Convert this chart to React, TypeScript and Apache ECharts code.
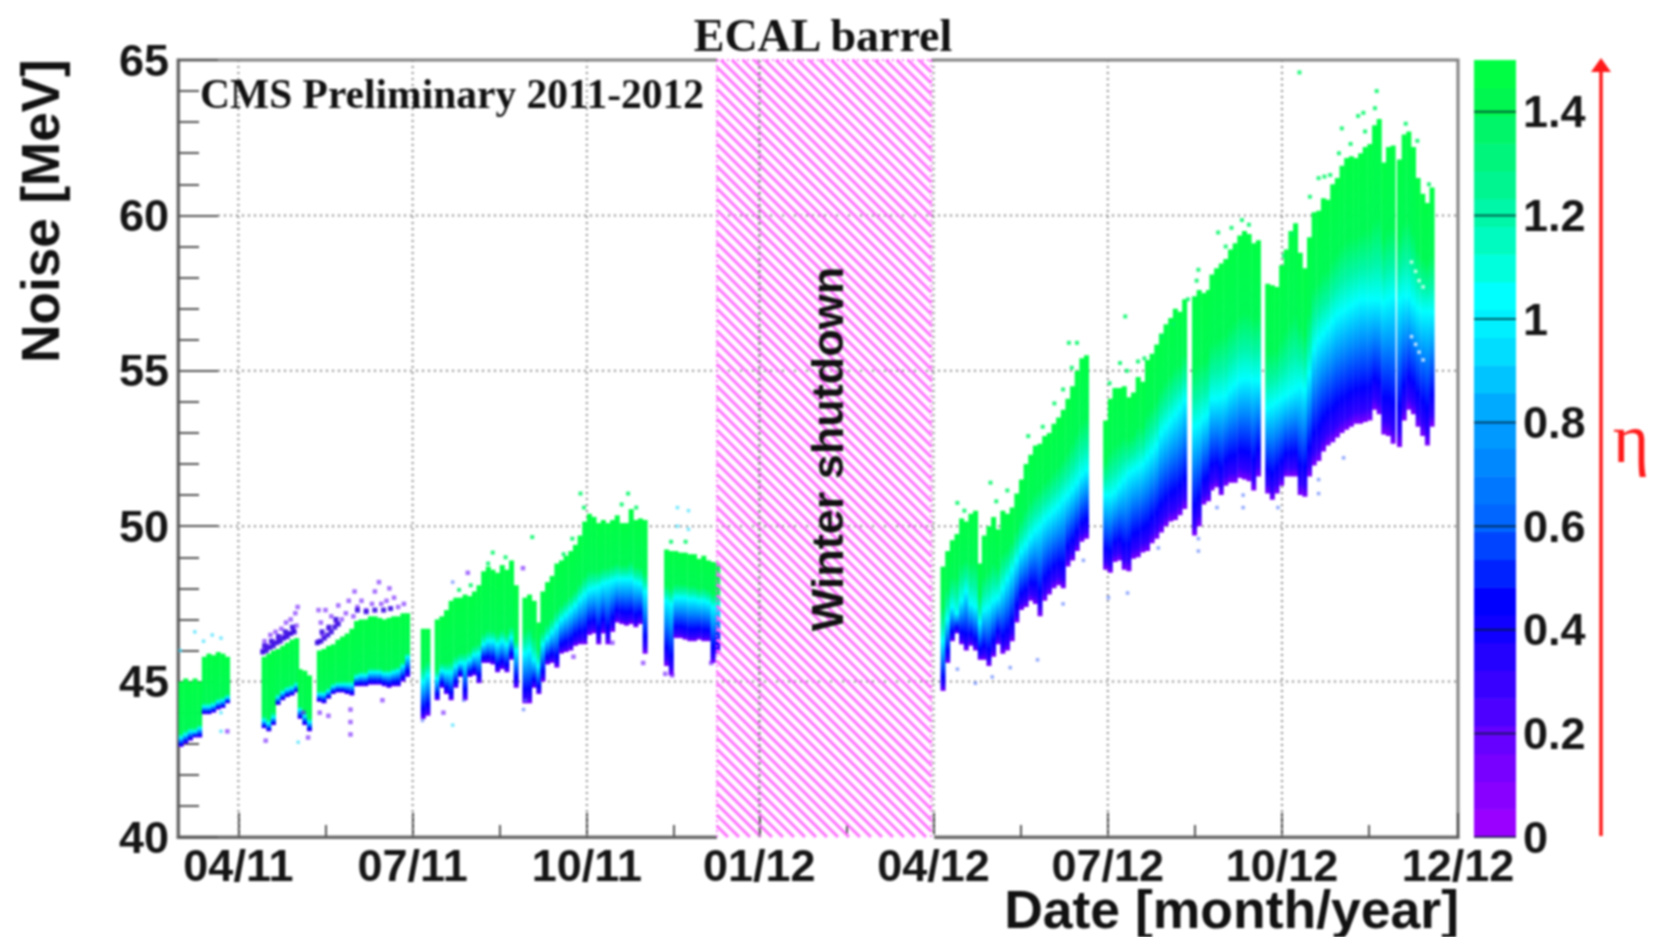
import React, { useEffect, useRef } from "react";
import * as echarts from "echarts";

const tickMonths = [0, 3, 6, 8.97, 11.97, 14.97, 17.97, 21];
const tickLabels = ["04/11", "07/11", "10/11", "01/12", "04/12", "07/12", "10/12", "12/12"];
const minorTickMonths = [1.5, 4.5, 7.5, 10.47, 13.47, 16.47, 19.47];
const noiseTicks = [40, 45, 50, 55, 60, 65];
const shutdown = [8.24, 11.93];
const sampleStep = 0.08;

// Each run: start month, then noise at eta 0 (low), at eta 1 (mid) and at eta 1.5 (high); fade = saturated green share above mid
const a1Start = -1.03;
const a1Low = [42.9, 43.0, 43.1, 43.2, 43.2];
const a1Mid = [43.2, 43.3, 43.4, 43.4, 43.5];
const a1High = [45.0, 45.1, 45.0, 45.1, 45.0];
const a2Start = -0.63;
const a2Low = [43.95, 43.95, 44.0, 44.1, 44.15, 44.3];
const a2Mid = [44.2, 44.2, 44.25, 44.35, 44.4, 44.5];
const a2High = [45.8, 45.9, 45.85, 45.95, 45.9, 45.8];
const b1Start = 0.4;
const b1Low = [43.5, 43.4, 43.6, 44.25, 44.4, 44.5, 44.55, 44.65];
const b1Mid = [43.75, 43.65, 43.85, 44.5, 44.65, 44.75, 44.8, 44.9];
const b1High = [45.8, 45.9, 46, 46.05, 46.15, 46.25, 46.35, 46.4];
const b2Start = 1.02;
const b2Low = [43.8, 43.6, 43.4];
const b2Mid = [44.1, 43.9, 43.7];
const b2High = [45.4, 45.35, 45.2];
const cStart = 1.35;
const cLow = [44.35, 44.3, 44.45, 44.6, 44.65, 44.65, 44.6, 44.55, 44.85, 44.85, 44.85, 44.9, 44.9, 44.9, 44.85, 44.8, 44.85, 44.85, 45.0, 45.15];
const cMid = [44.6, 44.6, 44.7, 44.85, 44.9, 44.9, 44.9, 44.9, 45.15, 45.2, 45.2, 45.3, 45.3, 45.3, 45.25, 45.25, 45.3, 45.35, 45.5, 45.8];
const cHigh = [46, 46.05, 46.15, 46.2, 46.35, 46.45, 46.55, 46.7, 46.95, 47.0, 47.0, 47.1, 47.1, 47.05, 47.0, 47.05, 47.1, 47.1, 47.2, 47.2];
const dStart = 3.14;
const dLow = [43.8, 43.9];
const dMid = [45.0, 45.2];
const dHigh = [46.7, 46.7];
const eStart = 3.38;
const eLow = [44.4, 44.8, 44.6, 44.4, 44.8, 45.15, 44.4, 45.15, 45.2, 44.95, 45.6, 45.6, 45.55, 45.3, 45.4, 45.3, 45.7, 44.8];
const eMid = [45.1, 45.35, 45.3, 45.3, 45.5, 45.6, 45.6, 45.7, 45.85, 45.9, 46.2, 46.3, 46.3, 46.2, 46.3, 46.2, 46.4, 46.0];
const eHigh = [47.0, 47.1, 47.3, 47.6, 47.7, 47.7, 47.8, 47.75, 47.9, 48.1, 48.55, 48.7, 48.6, 48.5, 48.75, 48.6, 48.9, 48.1];
const fStart = 4.89;
const fLow = [44.3, 44.3, 44.8, 44.6];
const fMid = [45.9, 46.0, 45.7, 45.5];
const fHigh = [47.7, 47.8, 47.6, 46.9];
const gStart = 5.2;
const gLow = [45.0, 45.55, 45.6, 45.45, 45.9, 45.95, 46.0, 46.15, 46.2, 46.2, 46.5, 46.55, 46.2, 46.55, 46.2, 46.6, 46.9, 46.85, 46.8, 46.85, 46.75, 46.85, 45.9];
const gMid = [46.2, 46.4, 46.6, 46.8, 47.0, 47.15, 47.3, 47.45, 47.65, 47.8, 47.95, 48.0, 48.05, 48.15, 48.2, 48.25, 48.3, 48.3, 48.3, 48.3, 48.2, 48.15, 47.9];
const gHigh = [47.9, 48.2, 48.4, 48.8, 48.9, 49.05, 49.2, 49.4, 49.7, 50.15, 50.4, 50.3, 50.1, 50.2, 50.1, 50.2, 50.35, 50.1, 50.1, 50.55, 50.2, 50.25, 50.2];
const hStart = 7.33;
const hLow = [45.5, 45.2, 46.4, 46.4, 46.35, 46.3, 46.3, 46.35, 46.3, 46.3, 45.6, 45.9];
const hMid = [47.6, 47.5, 47.7, 47.7, 47.7, 47.65, 47.65, 47.6, 47.6, 47.55, 47.4, 47.4];
const hHigh = [49.25, 49.2, 49.2, 49.15, 49.15, 49.1, 49.1, 48.95, 49.05, 48.9, 48.85, 48.8];
const i1Start = 12.09;
const i1Low = [44.7, 45.6, 46.3, 46.55, 46.2, 46, 46.15, 46, 45.7];
const i1Mid = [46.3, 47.0, 47.4, 47.2, 47.6, 47.9, 47.5, 47.4, 46.9];
const i1High = [48.7, 49.2, 49.55, 49.75, 50.25, 50.15, 50.4, 50.5, 48.8];
const i2Start = 12.8;
const i2Low = [45.7, 45.5, 45.8, 46.2, 45.9, 46.0, 46.3, 46.9, 47.3, 47.4, 47.6, 47.5, 47.1, 47.6, 47.8, 48.0, 48.1, 48.0, 48.7, 48.9, 49.2, 49.5, 49.6];
const i2Mid = [47.3, 47.4, 47.6, 47.7, 48.0, 48.3, 48.6, 48.9, 49.2, 49.4, 49.65, 49.85, 50.0, 50.2, 50.35, 50.5, 50.65, 50.85, 51.0, 51.2, 51.4, 51.65, 51.8];
const i2High = [49.7, 50.0, 50.3, 49.9, 50.5, 50.4, 50.6, 51.05, 51.5, 52.0, 52.3, 52.6, 52.65, 52.9, 53.0, 53.3, 53.5, 53.75, 54.1, 54.5, 55.0, 55.4, 55.5];
const kStart = 14.89;
const kLow = [48.6, 48.5, 48.85, 48.9, 48.6, 48.55, 48.95, 49, 49.15, 49.2, 49.45, 49.6, 49.8, 50.0, 50.15, 50.2, 50.35, 50.55];
const kMid = [51.0, 51.0, 51.1, 51.3, 51.5, 51.7, 51.8, 51.9, 52.0, 52.2, 52.4, 52.6, 53.0, 53.2, 53.4, 53.6, 53.8, 54.05];
const kHigh = [53.4, 54.1, 54.45, 54.45, 54.5, 54.15, 54.3, 54.8, 54.65, 55.35, 55.55, 55.85, 56.2, 56.5, 56.7, 57, 56.9, 57.3];
const lStart = 16.42;
const lLow = [49.7, 50.0, 50.7, 50.8];
const lMid = [53.2, 53.3, 53.5, 53.6];
const lHigh = [57.4, 57.6, 57.5, 57.6];
const mStart = 16.72;
const mLow = [51.15, 51.25, 51.0, 51.3, 51.4, 51.4, 51.55, 51.5, 51.45, 51.15, 51.6];
const mMid = [54.1, 54.1, 54.15, 54.2, 54.4, 54.55, 54.7, 54.75, 54.75, 54.7, 54.7];
const mHigh = [58.1, 58.3, 58.45, 58.6, 58.9, 59.1, 59.35, 59.5, 59.4, 59.1, 59.2];
const n1Start = 17.68;
const n1Low = [51.05, 50.85, 51.05, 51.3, 51.6, 51.6, 51.6, 51.0, 50.95, 51.6, 51.95, 52.1, 52.4, 52.6, 52.7, 52.85, 53.0, 53.1, 53.2, 53.3, 53.3, 53.35, 53.4, 53.75, 53.6, 52.95];
const n1Mid = [53.8, 53.9, 54, 54.1, 54.2, 54.3, 54.4, 54.5, 54.4, 54.9, 55.7, 56, 56.2, 56.4, 56.6, 56.8, 56.9, 57, 57.1, 57.2, 57.3, 57.3, 57.3, 57.3, 57.3, 57.2];
const n1High = [57.8, 57.75, 57.7, 58.4, 58.9, 59.5, 59.75, 58.8, 58.3, 59.3, 60.1, 60.15, 60.55, 60.5, 61, 61.2, 61.6, 61.85, 61.9, 61.85, 62, 62.2, 62.3, 62.9, 63.1, 61.7];
const n2Start = 19.76;
const n2Low = [52.9, 52.65];
const n2Mid = [57.3, 57.4];
const n2High = [62.2, 62.25];
const n3Start = 19.95;
const n3Low = [52.55, 53.4, 53.75, 53.6, 53.2, 52.9, 52.6, 53.2];
const n3Mid = [57.3, 57.4, 57.4, 57.2, 57.0, 56.9, 56.9, 56.9];
const n3High = [61.8, 62.6, 62.7, 62.2, 61.2, 60.7, 60.4, 60.9];

const runs: [number, number[], number[], number[], number][] = [
  [a1Start, a1Low, a1Mid, a1High, 0.92],
  [a2Start, a2Low, a2Mid, a2High, 0.92],
  [b1Start, b1Low, b1Mid, b1High, 0.92],
  [b2Start, b2Low, b2Mid, b2High, 0.92],
  [cStart, cLow, cMid, cHigh, 0.92],
  [dStart, dLow, dMid, dHigh, 0.7],
  [eStart, eLow, eMid, eHigh, 0.85],
  [fStart, fLow, fMid, fHigh, 0.6],
  [gStart, gLow, gMid, gHigh, 0.75],
  [hStart, hLow, hMid, hHigh, 0.7],
  [i1Start, i1Low, i1Mid, i1High, 0.55],
  [i2Start, i2Low, i2Mid, i2High, 0.55],
  [kStart, kLow, kMid, kHigh, 0.55],
  [lStart, lLow, lMid, lHigh, 0.55],
  [mStart, mLow, mMid, mHigh, 0.55],
  [n1Start, n1Low, n1Mid, n1High, 0.55],
  [n2Start, n2Low, n2Mid, n2High, 0.55],
  [n3Start, n3Low, n3Mid, n3High, 0.55],
];

const purpleStrays = [[0.42, 46.0], [0.45, 46.3], [0.5, 46.15], [0.55, 46.5], [0.6, 46.25], [0.64, 46.6], [0.68, 46.35], [0.74, 46.7], [0.78, 46.45], [0.82, 46.9], [0.86, 46.55], [0.9, 47.0], [0.95, 46.65], [0.98, 47.2], [1.0, 46.8], [1.02, 47.4], [1.38, 46.3], [1.38, 47.3], [1.42, 46.9], [1.45, 46.5], [1.5, 47.3], [1.55, 46.7], [1.6, 47.1], [1.68, 46.9], [1.72, 47.45], [1.78, 47.0], [1.85, 47.2], [1.9, 47.6], [1.98, 47.1], [2.0, 47.9], [2.05, 47.4], [2.12, 47.6], [2.2, 47.3], [2.3, 47.5], [2.35, 47.9], [2.42, 48.2], [2.46, 47.5], [2.55, 47.6], [2.6, 48.0], [2.68, 47.7], [2.75, 47.4], [2.85, 47.5], [0.47, 43.1], [1.12, 44.0], [1.2, 43.2], [1.4, 44.0], [1.55, 43.9], [1.93, 43.3], [1.93, 43.7], [1.93, 44.1], [-0.19, 43.4], [2.48, 44.4], [3.53, 44.0], [3.95, 48.5], [4.9, 48.65], [6.97, 45.6], [6.44, 46.25], [5.77, 45.8], [7.35, 45.25], [7.47, 45.2], [8.14, 45.6]];
const darkFringe = [[0.42, 45.95], [0.48, 46.0], [0.54, 46.1], [0.6, 46.15], [0.66, 46.25], [0.72, 46.3], [0.78, 46.4], [0.84, 46.45], [0.9, 46.55], [0.96, 46.6], [0.45, 46.15], [0.57, 46.3], [0.69, 46.45], [0.81, 46.6], [0.93, 46.75], [1.36, 46.25], [1.42, 46.3], [1.48, 46.4], [1.54, 46.5], [1.6, 46.6], [1.66, 46.75], [1.72, 46.85], [1.44, 46.6], [1.56, 46.75], [1.68, 47.0], [2.05, 47.3], [2.2, 47.25], [2.35, 47.3], [2.5, 47.3], [2.62, 47.35]];
const blueStrays = [[3.17, 43.75], [3.88, 44.4], [3.69, 48.2], [4.91, 44.1], [4.94, 44.4], [13.76, 45.7], [13.29, 45.45], [12.98, 45.15], [12.69, 44.95], [12.38, 45.4], [14.55, 48.9], [14.2, 47.5], [16.53, 49.2], [15.31, 47.85], [14.98, 47.7], [15.84, 49.3], [17.3, 50.6], [16.85, 50.6], [18.6, 51.05], [18.6, 51.5], [19.03, 52.2], [17.9, 50.6], [16.53, 49.6], [17.3, 51.0]];
const cyanStrays = [[-0.6, 46.3], [-0.75, 46.6], [-0.45, 46.5], [-1.0, 46.0], [-0.3, 46.4], [-0.3, 44.0], [-0.3, 43.4], [1.03, 43.05], [3.69, 43.6], [7.56, 50.6], [7.75, 50.5], [7.56, 50.0], [7.75, 49.9]];
const greenStrays = [[5.89, 51.05], [5.06, 49.65], [4.38, 49.15], [6.71, 51.05], [14.3, 55.9], [14.44, 55.9], [12.38, 50.75], [12.95, 51.4], [13.24, 51.15], [15.27, 56.75], [15.18, 55.25], [15.49, 55.3], [16.87, 59.45], [16.53, 58.25], [17.28, 59.85], [19.57, 63.45], [19.28, 63.2], [19.37, 63.3], [19.0, 62.8], [18.6, 61.2], [18.7, 61.25], [18.27, 64.6], [19.6, 64.0], [13.6, 52.9], [13.85, 53.2], [14.05, 53.95], [14.2, 54.4], [14.35, 55.1], [15.0, 54.6], [15.3, 55.0], [15.6, 55.4], [15.9, 56.1], [16.1, 56.5], [16.35, 57.3], [16.5, 57.9], [17.0, 59.0], [17.1, 59.6], [17.4, 59.7], [18.0, 58.7], [18.15, 59.4], [18.45, 60.6], [18.8, 61.3], [18.95, 62.0], [19.15, 62.3], [19.4, 62.7], [20.1, 62.95], [20.3, 62.4], [20.5, 61.0], [7.45, 49.5], [7.7, 49.5], [5.6, 49.1], [5.75, 49.6], [5.95, 50.6], [6.6, 50.7], [6.85, 50.6], [3.8, 47.95], [4.0, 48.1], [4.3, 48.8], [4.6, 49.0], [12.5, 50.5], [13.05, 50.8]];
const whiteStreaks = [[20.2, 58.5], [20.27, 58.2], [20.33, 57.9], [20.4, 57.7], [20.2, 56.1], [20.27, 55.85], [20.33, 55.6], [20.4, 55.35]];

const palette = ["#9900ff", "#8800ff", "#7700ff", "#6600ff", "#4d00ff", "#3800ff", "#2400ff", "#1000ff", "#0000ff", "#0022ff", "#0044ff", "#0066ff", "#0077ff", "#0088ff", "#0099ff", "#00aaff", "#00c4ff", "#00ddff", "#00f0ff", "#00ffff", "#00ffdd", "#00fbc0", "#00f7a8", "#00f590", "#00f57c", "#00f668", "#00f750", "#00ff44"];
const etaMax = 1.5;
const etaTicks = [0, 0.2, 0.4, 0.6, 0.8, 1, 1.2, 1.4];

const serif = "'Liberation Serif', serif";
const sans = "'Liberation Sans', sans-serif";

export default function App() {
  const ref = useRef<HTMLDivElement>(null);
  useEffect(() => {
    const chart = echarts.init(ref.current!, undefined, { renderer: "svg" });
    const columns: number[][] = [];
    runs.forEach(([start, low, mid, high, fade]) => {
      low.forEach((v, i) => columns.push([start + i * sampleStep, v, mid[i], high[i], fade]));
    });
    const strays = (name: string, data: number[][], color: string, opacity: number, size = 3.5) => ({
      type: "scatter", name, data, symbol: "rect", symbolSize: size, xAxisIndex: 0, yAxisIndex: 0, z: 4,
      itemStyle: { color, opacity }, silent: true,
    });
    chart.setOption({
      animation: false,
      grid: [
        { left: 178, top: 60, width: 1280, height: 777, show: true, borderColor: "#808080", borderWidth: 3, backgroundColor: "#fff" },
        { left: 1474, top: 60, width: 42, height: 777 },
      ],
      xAxis: [
        {
          type: "value", gridIndex: 0, min: -1.04, max: 21,
          axisLine: { show: true, onZero: false, lineStyle: { color: "#666", width: 3 } },
          axisTick: { show: true, inside: true, length: 24, customValues: tickMonths, lineStyle: { color: "#444", width: 2 } },
          axisLabel: {
            show: true, customValues: tickMonths, margin: 10, lineHeight: 36, fontFamily: sans, fontWeight: "bold", fontSize: 45, color: "#151515",
            formatter: (v: number) => tickLabels[tickMonths.indexOf(v)] ?? "",
          },
          splitLine: { show: false },
          minorTick: { show: false },
        },
        {
          type: "value", gridIndex: 0, min: -1.04, max: 21, position: "bottom",
          axisLine: { show: false },
          axisTick: { show: true, inside: true, length: 12, customValues: minorTickMonths, lineStyle: { color: "#555", width: 2 } },
          axisLabel: { show: false },
          splitLine: { show: false },
        },
        { type: "value", gridIndex: 1, min: 0, max: 1, show: false },
      ],
      yAxis: [
        {
          type: "value", gridIndex: 0, min: 40, max: 65, interval: 5,
          axisLine: { show: true, onZero: false, lineStyle: { color: "#666", width: 3 } },
          axisTick: { show: true, inside: true, length: 40, lineStyle: { color: "#555", width: 2 } },
          minorTick: { show: true, splitNumber: 5, length: 21, lineStyle: { color: "#555", width: 2 } },
          axisLabel: { show: true, margin: 9, fontFamily: sans, fontWeight: "bold", fontSize: 45, color: "#151515", customValues: noiseTicks },
          splitLine: { show: false },
        },
        {
          type: "value", gridIndex: 1, min: 0, max: etaMax, position: "right",
          axisLine: { show: false },
          axisTick: { show: false },
          axisLabel: { show: true, margin: 7, padding: [3, 0, 0, 0], customValues: etaTicks, fontFamily: sans, fontWeight: "bold", fontSize: 45, color: "#151515", formatter: (v: number) => String(v) },
          splitLine: { show: false },
        },
      ],
      series: [
        {
          type: "custom", name: "grid", xAxisIndex: 0, yAxisIndex: 0, z: 1, silent: true, data: [[0]],
          renderItem: (_p: any, api: any) => {
            const [x0, y0] = api.coord([-1.04, 65]);
            const [x1, y1] = api.coord([21, 40]);
            const dash = { stroke: "#8a8a8a", lineWidth: 2, lineDash: [2, 4] };
            const children: any[] = [];
            tickMonths.forEach((m) => {
              if (m === 21) return;
              const x = api.coord([m, 40])[0];
              children.push({ type: "line", shape: { x1: x, y1: y0, x2: x, y2: y1 }, style: dash });
            });
            noiseTicks.slice(1, -1).forEach((n) => {
              const y = api.coord([0, n])[1];
              children.push({ type: "line", shape: { x1: x0 + 40, y1: y, x2: x1, y2: y }, style: dash });
            });
            return { type: "group", children };
          },
        },
        {
          type: "custom", name: "Winter shutdown", xAxisIndex: 0, yAxisIndex: 0, z: 3, silent: true, data: [shutdown],
          renderItem: (_p: any, api: any) => {
            const [x0, y0] = api.coord([api.value(0), 65]);
            const [x1, y1] = api.coord([api.value(1), 40]);
            const children: any[] = [
              { type: "rect", shape: { x: x0, y: y0 - 2, width: x1 - x0, height: 4 }, style: { fill: "#fff" } },
              { type: "rect", shape: { x: x0, y: y1 - 3, width: x1 - x0 + 3, height: 5 }, style: { fill: "#fff" } },
            ];
            const gap = 11;
            const w = x1 - x0;
            const h = y1 - y0;
            for (let s = -h; s < w; s += gap) {
              const sx = Math.max(s, 0);
              const sy = sx - s;
              const ex = Math.min(s + h, w);
              const ey = ex - s;
              children.push({
                type: "line",
                shape: { x1: x0 + sx, y1: y0 + sy, x2: x0 + ex, y2: y0 + ey },
                style: { stroke: "#ff70ff", lineWidth: 3 },
              });
            }
            const dash = { stroke: "#ff50ff", lineWidth: 1.5, lineDash: [2, 3] };
            children.push({ type: "line", shape: { x1: x0, y1: y0, x2: x0, y2: y1 }, style: dash });
            children.push({ type: "line", shape: { x1: x1, y1: y0, x2: x1, y2: y1 }, style: dash });
            children.push({ type: "line", shape: { x1: x0, y1: y0, x2: x1, y2: y0 }, style: dash });
            const gx = api.coord([tickMonths[3], 40])[0];
            children.push({ type: "line", shape: { x1: gx, y1: y0, x2: gx, y2: y1 }, style: { stroke: "rgba(130,130,130,0.75)", lineWidth: 2.5, lineDash: [3, 3] } });
            return { type: "group", children };
          },
        },
        {
          type: "custom", name: "Noise", xAxisIndex: 0, yAxisIndex: 0, z: 2, silent: true, data: columns,
          encode: { x: 0, y: [1, 3] },
          renderItem: (_p: any, api: any) => {
            const m = api.value(0);
            const low = api.value(1);
            const mid = api.value(2);
            const high = api.value(3);
            const fade = api.value(4);
            const [xa, yb] = api.coord([m, low]);
            const [xb, yt] = api.coord([m + sampleStep, high]);
            const f = (high - mid) / (high - low);
            const stops = [
              { offset: 0, color: "#00ff44" },
              { offset: f * fade, color: "#00fa55" },
              { offset: f * (fade + (1 - fade) * 0.55), color: "#00f7a8" },
              { offset: f, color: "#00ffff" },
              { offset: f + (1 - f) * 0.35, color: "#0088ff" },
              { offset: f + (1 - f) * 0.72, color: "#0000ff" },
              { offset: f + (1 - f) * 0.9, color: "#3000ff" },
              { offset: 1, color: "#8000ff" },
            ];
            return {
              type: "rect",
              shape: { x: xa, y: yt, width: xb - xa + 0.4, height: yb - yt },
              style: { fill: new echarts.graphic.LinearGradient(0, 0, 0, 1, stops) },
            };
          },
        },
        strays("eta low", purpleStrays, "#6a10ff", 0.6, 4.5),
        strays("eta lower", darkFringe, "#3000e0", 0.85, 5),
        strays("eta mid", blueStrays, "#4a70ff", 0.6),
        strays("eta 1", cyanStrays, "#40e0ff", 0.7),
        strays("eta high", greenStrays, "#00f766", 0.85, 4),
        strays("streaks", whiteStreaks, "#ffffff", 0.75),
        {
          type: "custom", name: "eta palette", xAxisIndex: 2, yAxisIndex: 1, z: 1, silent: true,
          data: palette.map((_, i) => [i]),
          renderItem: (_p: any, api: any) => {
            const i = api.value(0);
            const bottom = api.coord([0, (i / palette.length) * etaMax]);
            const top = api.coord([1, ((i + 1) / palette.length) * etaMax]);
            return {
              type: "rect",
              shape: { x: bottom[0], y: top[1], width: top[0] - bottom[0], height: bottom[1] - top[1] + 0.6 },
              style: { fill: palette[i] },
            };
          },
        },
        {
          type: "custom", name: "eta ticks", xAxisIndex: 2, yAxisIndex: 1, z: 2, silent: true,
          data: etaTicks.map((v) => [v]),
          renderItem: (_p: any, api: any) => {
            const a = api.coord([0, api.value(0)]);
            const b = api.coord([1, api.value(0)]);
            return {
              type: "line",
              shape: { x1: a[0], y1: a[1], x2: b[0], y2: b[1] },
              style: { stroke: "rgba(0,30,40,0.7)", lineWidth: 2 },
            };
          },
        },
      ],
      graphic: [
        { type: "text", x: 823, y: 35, z: 10, style: { text: "ECAL barrel", font: `bold 46px ${serif}`, fill: "#111", textAlign: "center", textVerticalAlign: "middle" } },
        { type: "text", x: 200, y: 94, z: 10, style: { text: "CMS Preliminary 2011-2012", font: `bold 41.5px ${serif}`, fill: "#111", textAlign: "left", textVerticalAlign: "middle" } },
        { type: "text", x: 40, y: 211, rotation: Math.PI / 2, z: 10, style: { text: "Noise [MeV]", font: `bold 53px ${sans}`, fill: "#111", textAlign: "center", textVerticalAlign: "middle" } },
        { type: "text", x: 1459, y: 909, z: 10, style: { text: "Date [month/year]", font: `bold 53.5px ${sans}`, lineHeight: 40, fill: "#111", textAlign: "right", textVerticalAlign: "middle" } },
        { type: "text", x: 827, y: 449, rotation: Math.PI / 2, z: 10, style: { text: "Winter shutdown", font: `bold 45px ${sans}`, fill: "#111", textAlign: "center", textVerticalAlign: "middle" } },
        { type: "text", x: 1631, y: 438, z: 10, style: { text: "η", font: `70px ${serif}`, fill: "#ff1a1a", textAlign: "center", textVerticalAlign: "middle" } },
        { type: "line", z: 10, shape: { x1: 1601, y1: 66, x2: 1601, y2: 836 }, style: { stroke: "#ff1a1a", lineWidth: 3.5 } },
        { type: "polygon", z: 10, shape: { points: [[1601, 58], [1591, 72], [1611, 72]] }, style: { fill: "#ff1a1a" } },
      ],
    });
    return () => chart.dispose();
  }, []);
  return <div ref={ref} style={{ position: "fixed", left: 0, top: 0, width: 1657, height: 937, background: "#fff", filter: "blur(0.8px)" }} />;
}
